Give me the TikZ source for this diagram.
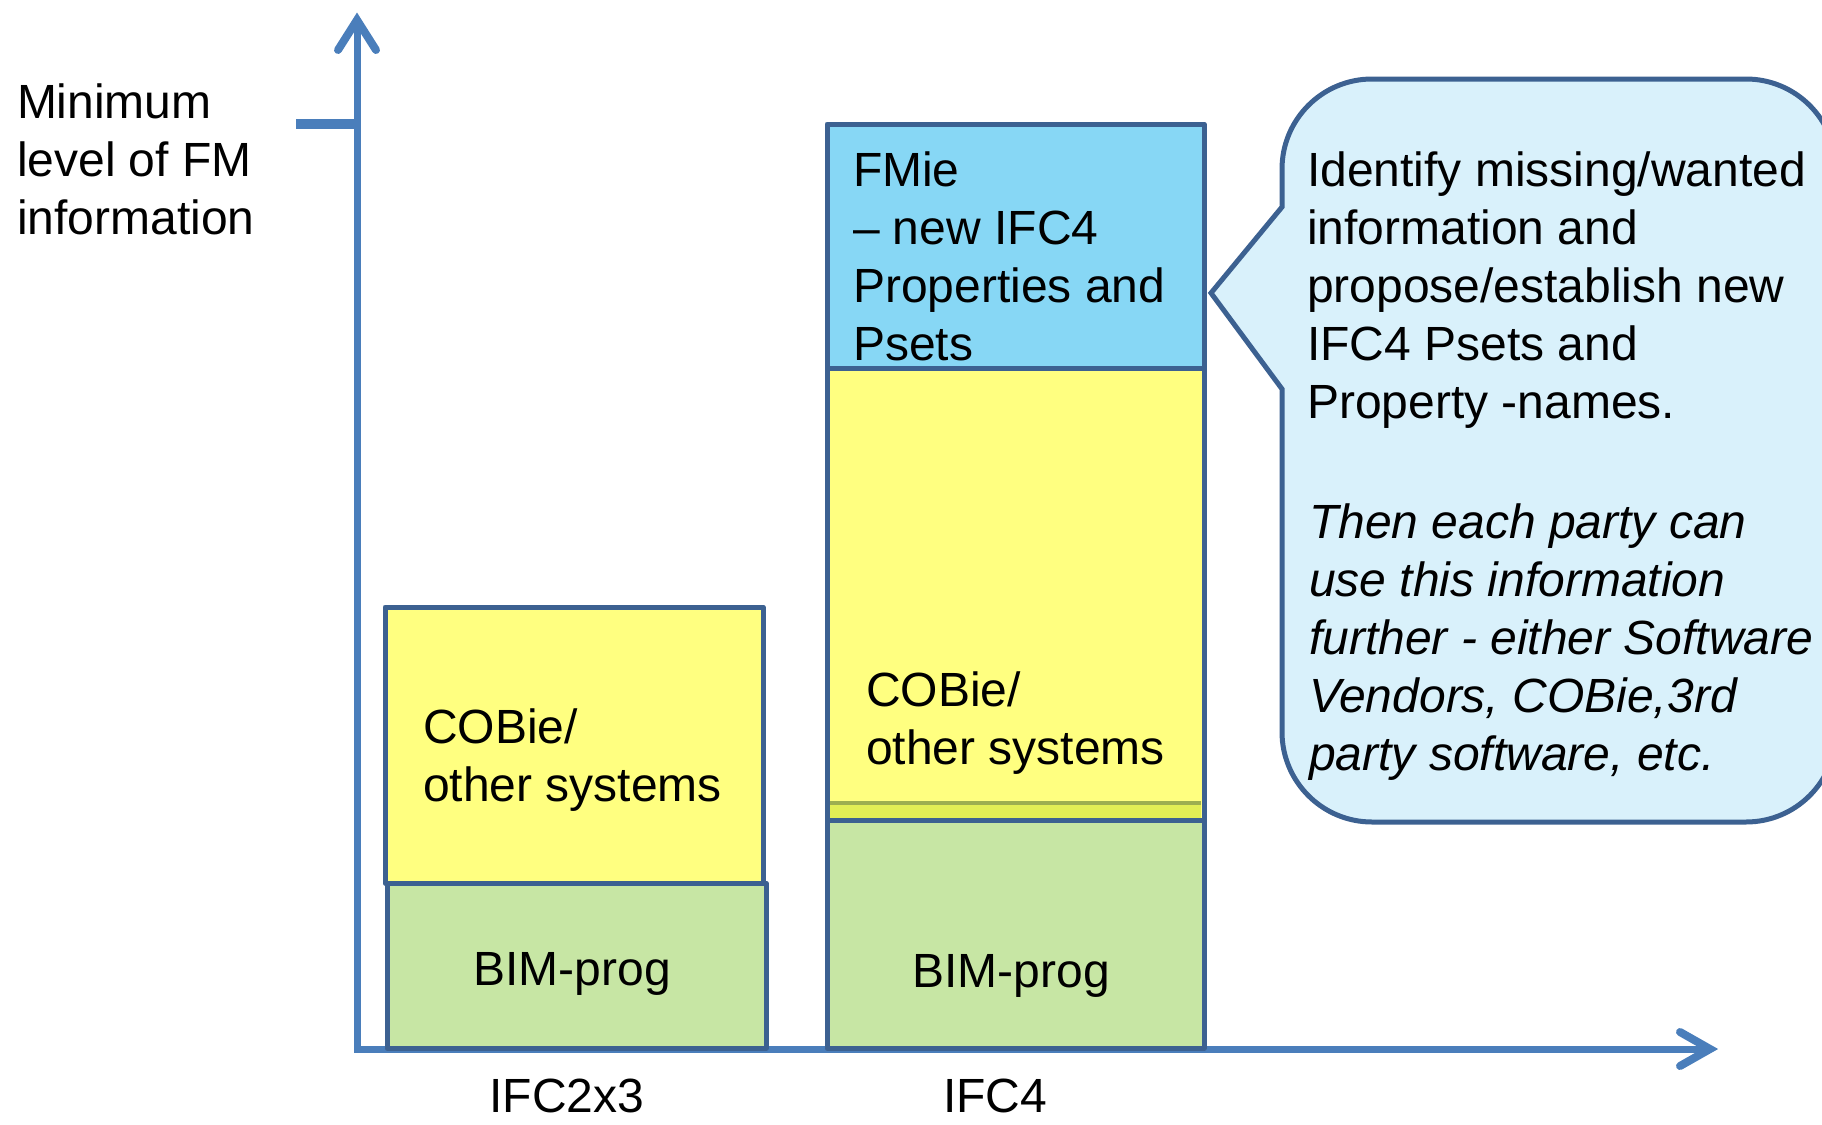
\documentclass[tikz,border=0pt]{standalone}
\usepackage{fontspec}
\setmainfont{Liberation Sans}
\definecolor{axisblue}{HTML}{4A7EBB}
\definecolor{bordblue}{HTML}{3C6191}
\definecolor{yel}{HTML}{FFFF80}
\definecolor{grn}{HTML}{C7E6A4}
\definecolor{cyanb}{HTML}{87D7F5}
\definecolor{bubblefill}{HTML}{D9F1FB}
\definecolor{olivec}{HTML}{9DAE50}
\definecolor{stripc}{HTML}{E2EE55}
\newcommand{\mylines}[1]{\parbox[t]{700pt}{\raggedright #1}}
\begin{document}
\begin{tikzpicture}[x=1pt,y=-1pt,
  axis/.style={draw=axisblue,line width=7pt,line join=miter},
  arrowarm/.style={draw=axisblue,line width=8pt,line cap=round,line join=miter},
  bar/.style={draw=bordblue,line width=5pt,rectangle,inner sep=0pt,outer sep=0pt,anchor=north west,line join=round},
  txt/.style={inner sep=0pt,outer sep=0pt,font=\fontsize{48}{58}\selectfont,text=black},
  bubble/.style={draw=bordblue,fill=bubblefill,line width=5pt,line join=miter}
]
\useasboundingbox (0,0) rectangle (1822,1124);
% axes
\coordinate (O) at (357,1049);
\coordinate (ytop) at (357,22);
\coordinate (xend) at (1708,1049);
\coordinate (yarmL) at (338,50);
\coordinate (yarmR) at (376,50);
\coordinate (yapex) at (357,20);
\coordinate (xarmU) at (1680,1032);
\coordinate (xarmD) at (1680,1066);
\coordinate (xapex) at (1710,1049);
\coordinate (tick) at (296,124);
\coordinate (tickend) at (357,124);
\draw[axis] (ytop) -- (O) -- (xend);
\draw[arrowarm] (yarmL) -- (yapex) -- (yarmR);
\draw[arrowarm] (xarmU) -- (xapex) -- (xarmD);
\draw[draw=axisblue,line width=10pt] (tick) -- (tickend);
% IFC2x3 column
\node[bar,fill=yel,minimum width=378pt,minimum height=276pt] (y1) at (385,607) {};
\node[bar,fill=grn,minimum width=379pt,minimum height=165pt] (g1) at (387,883) {};
% IFC4 column
\node[bar,fill=yel,minimum width=377pt,minimum height=452pt] (y2) at (827,368) {};
\fill[stripc] (830,805) rectangle (1201,820);
\draw[olivec,line width=4pt] (830,803) -- (1201,803);
\node[bar,fill=grn,minimum width=377pt,minimum height=228pt] (g2) at (827,820) {};
\node[bar,fill=cyanb,minimum width=377pt,minimum height=244pt] (b2) at (827,124) {};
% callout
\draw[bubble] (1282,389) -- (1282,732) arc[start angle=180,end angle=270,radius=90pt]
  -- (1746,822) arc[start angle=270,end angle=360,radius=90pt]
  -- (1836,169) arc[start angle=0,end angle=90,radius=90pt]
  -- (1372,79) arc[start angle=90,end angle=180,radius=90pt]
  -- (1282,207) -- (1211,293) -- cycle;
% texts
\node[txt,anchor=base west] (ylabel) at (17,118) {\mylines{Minimum\\level of FM\\information}};
\node[txt,anchor=base west] (fmie) at (853,186) {\mylines{FMie\\– new IFC4\\Properties and\\Psets}};
\node[txt,anchor=base west] (cobie1) at (423,743) {\mylines{COBie/\\other systems}};
\node[txt,anchor=base west] (cobie2) at (866,706) {\mylines{COBie/\\other systems}};
\node[txt,anchor=base] (bim1) at (572,985) {BIM-prog};
\node[txt,anchor=base] (bim2) at (1011,987) {BIM-prog};
\node[txt,anchor=base] (ifc23) at (567,1112) {IFC2x3};
\node[txt,anchor=base] (ifc4) at (995,1112) {IFC4};
\node[txt,anchor=base west] (note1) at (1307,186) {\mylines{Identify missing/wanted\\information and\\propose/establish new\\IFC4 Psets and\\Property -names.}};
\node[txt,anchor=base west] (note2) at (1309,538) {\mylines{\itshape Then each party can\\use this information\\further - either Software\\Vendors, COBie,3rd\\party software, etc.}};
\end{tikzpicture}
\end{document}
